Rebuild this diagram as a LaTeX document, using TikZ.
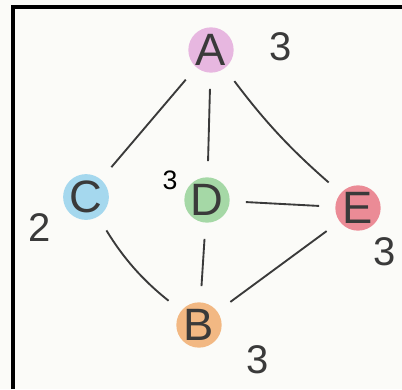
\documentclass[tikz,border=0pt]{standalone}
\usepackage{fontspec}
\setmainfont{Liberation Sans}
\usetikzlibrary{calc, positioning}
\definecolor{paper}{HTML}{FBFBF8}
\definecolor{pencil}{HTML}{3A3A3A}
\definecolor{pinkA}{HTML}{E3A6DA}
\definecolor{blueC}{HTML}{90D0EC}
\definecolor{greenD}{HTML}{90D092}
\definecolor{redE}{HTML}{E8707E}
\definecolor{orangeB}{HTML}{F0A866}
\tikzset{
  vertex/.style={circle, fill=#1, fill opacity=0.8, text opacity=1, text=pencil,
    minimum size=34pt, inner sep=0pt, font=\fontsize{34}{34}\selectfont},
  edge/.style={pencil, line width=1.4pt, shorten <=12pt, shorten >=12pt},
  degree/.style={text=pencil, font=\fontsize{30}{30}\selectfont}
}

\begin{document}
\begin{tikzpicture}[x=0.75pt, y=-0.75pt]
  % paper and frame
  \fill[paper] (0,0) rectangle (402,389);
  \useasboundingbox (0,0) rectangle (402,389);
  \draw[black, line width=3pt] (13,389) -- (13,6.5) -- (402,6.5);
  % vertices
  \node[vertex=pinkA] (A) at (211,50) {A};
  \node[vertex=blueC] (C) at (86,197) {C};
  \node[vertex=greenD] (D) at (207,200) {D};
  \node[vertex=redE] (E) at (358,208) {E};
  \node[vertex=orangeB] (B) at (199,325) {B};
  % edges
  \draw[edge] (A) -- (C);
  \draw[edge] (A) -- (D);
  \draw[edge] (A) to[bend right=6] (E);
  \draw[edge] (D) -- (E);
  \draw[edge] (D) -- (B);
  \draw[edge] (C) to[bend right=10] (B);
  \draw[edge] (E) -- (B);
  % degrees
  \node[degree] (dA) at (281,47) {3};
  \node[degree] (dC) at (40,228) {2};
  \node[degree, text=black, font=\fontsize{20}{20}\selectfont\rmfamily] (dD) at (170,180) {3};
  \node[degree] (dE) at (385,252) {3};
  \node[degree] (dB) at (258,360) {3};
\end{tikzpicture}
\end{document}
